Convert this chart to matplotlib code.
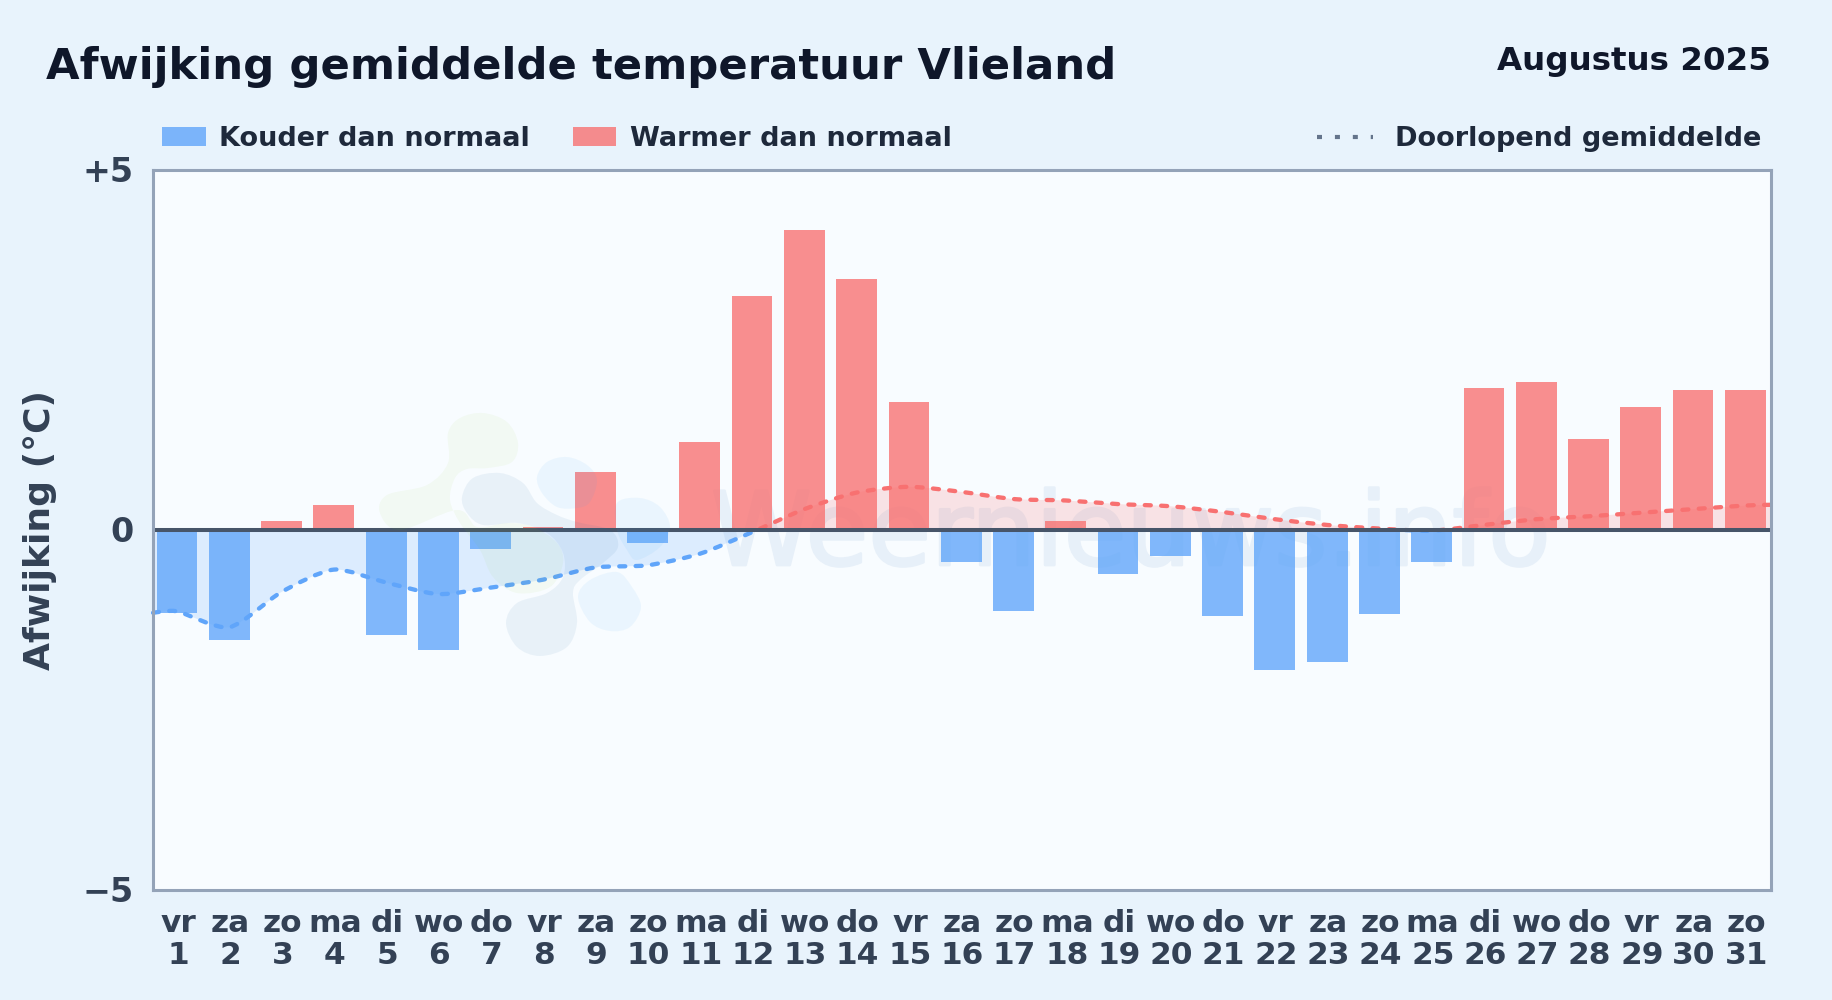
import numpy as np
from matplotlib import pyplot as plt
from matplotlib import patheffects
from matplotlib.path import Path
from matplotlib.patches import PathPatch, Rectangle
from matplotlib.lines import Line2D
from matplotlib.transforms import ScaledTranslation

# figure is laid out in pixels, same as the reference
WIDTH = 1832
HEIGHT = 1000

BG = "#e8f3fc"
PLOT_BG = "#f8fcff"
COLD = "#60a5fa"
WARM = "#f87171"
WATERMARK = "#e7f0f9"

# DATA
weekdays = ["vr", "za", "zo", "ma", "di", "wo", "do", "vr", "za", "zo", "ma", "di", "wo", "do", "vr", "za",
            "zo", "ma", "di", "wo", "do", "vr", "za", "zo", "ma", "di", "wo", "do", "vr", "za", "zo"]
days = list(range(1, 32))

# afwijking per dag in graden
deviation = [-1.15, -1.53, 0.12, 0.35, -1.46, -1.66, -0.26, 0.04, 0.80, -0.18, 1.22, 3.25, 4.16, 3.48, 1.78, -0.45,
             -1.13, 0.12, -0.61, -0.36, -1.19, -1.95, -1.84, -1.17, -0.45, 1.97, 2.05, 1.26, 1.71, 1.94, 1.94]

# doorlopend gemiddelde, runs from the left edge of the plot to the right edge
mean_x = [0.54] + days + [31.49]
mean_y = [-1.15, -1.13, -1.35, -0.86, -0.55, -0.73, -0.89, -0.80, -0.69, -0.52, -0.49, -0.33, -0.03, 0.29, 0.52,
          0.60, 0.53, 0.43, 0.41, 0.36, 0.33, 0.25, 0.15, 0.07, 0.02, -0.01, 0.07, 0.15, 0.19, 0.24, 0.29, 0.34, 0.35]

# watermark logo blobs, in pixels of the figure
blob_green = [(448, 433), (460, 418), (483, 413), (507, 422), (518, 443), (512, 462), (488, 468), (467, 469),
              (455, 478), (450, 500), (460, 523), (480, 550), (493, 577), (517, 593), (550, 587), (563, 563),
              (557, 543), (533, 527), (507, 523), (477, 527), (457, 510), (400, 530), (380, 513), (387, 495),
              (427, 485), (448, 463)]
blob_dark = [(462, 497), (473, 478), (500, 473), (523, 483), (537, 503), (557, 515), (577, 522), (610, 530),
             (618, 547), (603, 563), (580, 580), (573, 593), (577, 623), (567, 647), (540, 656), (517, 647),
             (506, 623), (517, 603), (547, 593), (563, 577), (563, 553), (547, 533), (517, 523), (483, 525),
             (467, 513)]
blob_light1 = [(537, 477), (547, 462), (567, 457), (587, 465), (597, 480), (590, 502), (577, 508), (557, 507),
               (542, 493)]
blob_light2 = [(617, 503), (640, 498), (660, 507), (670, 527), (660, 547), (637, 560), (627, 550), (617, 530)]
blob_light3 = [(578, 597), (590, 580), (617, 572), (632, 587), (641, 607), (630, 627), (610, 631), (590, 622)]


# smooth curve through the points as bezier segments (catmull-rom)
def smooth_segments(x, y, pull=6):
    pts = np.column_stack([x, y])
    verts = [pts[0]]
    for i in range(len(pts) - 1):
        before = pts[max(i - 1, 0)]
        after = pts[min(i + 2, len(pts) - 1)]
        verts.append(pts[i] + (pts[i + 1] - before) / pull)
        verts.append(pts[i + 1] - (after - pts[i]) / pull)
        verts.append(pts[i + 1])
    return verts


def open_path(x, y):
    verts = smooth_segments(x, y, pull=8)
    codes = [Path.MOVETO] + [Path.CURVE4] * (len(verts) - 1)
    return Path(verts, codes)


def area_path(x, y):
    verts = smooth_segments(x, y, pull=8)
    codes = [Path.MOVETO] + [Path.CURVE4] * (len(verts) - 1)
    verts = verts + [(x[-1], 0), (x[0], 0), (x[0], y[0])]
    codes = codes + [Path.LINETO, Path.LINETO, Path.LINETO]
    return Path(verts, codes)


def blob_path(points):
    pts = np.array(points + points[:3], dtype=float)
    verts = smooth_segments(pts[:, 0], pts[:, 1])
    # leave out the first and last stretch so that the loop closes smoothly
    verts = verts[3:-3]
    codes = [Path.MOVETO] + [Path.CURVE4] * (len(verts) - 1)
    return Path(verts, codes)


fig = plt.figure(figsize=(WIDTH / 100, HEIGHT / 100), dpi=100, facecolor=BG)
plt.rcParams["font.family"] = "DejaVu Sans"

# x, y in pixels from the top left of the picture
def fx(px):
    return px / WIDTH


def fy(px):
    return 1 - px / HEIGHT


ax = fig.add_axes([fx(153), fy(890), (1771 - 153) / WIDTH, (890 - 170) / HEIGHT], facecolor=PLOT_BG)
ax.set_xlim(0.54, 31.49)
ax.set_ylim(-5, 5)

# watermark text lies under the see-through bars, opaque so the thicker stroke does not double up
wm = ax.text(fx(711), fy(565), "Weernieuws.info", fontsize=73.3, color=WATERMARK, va="baseline", zorder=0.5,
             transform=fig.transFigure)
wm.set_path_effects([patheffects.withStroke(linewidth=2, foreground=WATERMARK)])

# area and dotted line, blue under zero and red over it
above = Rectangle((0.5, 0), 31, 5, transform=ax.transData)
below = Rectangle((0.5, -5), 31, 5, transform=ax.transData)
for color, clip in [(COLD, below), (WARM, above)]:
    area = PathPatch(area_path(mean_x, mean_y), facecolor=color, edgecolor="none", alpha=0.18, zorder=1)
    ax.add_patch(area)
    area.set_clip_path(clip)

bar_colors = [COLD if v < 0 else WARM for v in deviation]
ax.bar(days, deviation, width=0.78, color=bar_colors, alpha=0.79, zorder=2)

for color, clip in [(COLD, below), (WARM, above)]:
    line = PathPatch(open_path(mean_x, mean_y), facecolor="none", edgecolor=color, linewidth=3.1,
                     linestyle=(0, (1.4, 2.4)), capstyle="round", zorder=3)
    ax.add_patch(line)
    line.set_clip_path(clip)

ax.axhline(0, color="#475569", linewidth=2.9, zorder=4)

ax.set_xticks(days)
ax.set_xticklabels(["{}\n{}".format(w, d) for w, d in zip(weekdays, days)], fontsize=22.5, fontweight="bold",
                   color="#334155", linespacing=1.14)
ax.set_yticks([-5, 0, 5])
ax.set_yticklabels(["\u22125", "0", "+5"], fontsize=24, fontweight="bold", color="#334155")
ax.tick_params(axis="both", length=0)
ax.tick_params(axis="x", pad=13.5)
ax.tick_params(axis="y", pad=14)
for label in ax.get_yticklabels():
    label.set_transform(label.get_transform() + ScaledTranslation(0, 1.5 / 100, fig.dpi_scale_trans))
for label in ax.get_xticklabels():
    label.set_transform(label.get_transform() + ScaledTranslation(1 / 100, 0, fig.dpi_scale_trans))
for spine in ax.spines.values():
    spine.set_color("#94a3b8")
    spine.set_linewidth(2.2)
    spine.set_zorder(5)

fig.text(fx(40), fy(530), "Afwijking (\u00b0C)", rotation=90, ha="center", va="center", fontsize=26,
         fontweight="bold", color="#334155")

fig.text(fx(46), fy(79), "Afwijking gemiddelde temperatuur Vlieland", fontsize=31.2, fontweight="bold",
         color="#0f172a", va="baseline")
fig.text(fx(1771), fy(70), "Augustus 2025", fontsize=23.4, fontweight="bold", color="#0f172a", ha="right",
         va="baseline")

# legend
fig.add_artist(Rectangle((fx(162), fy(146)), 44 / WIDTH, 19 / HEIGHT, transform=fig.transFigure, facecolor=COLD,
                         alpha=0.8, edgecolor="none"))
fig.add_artist(Rectangle((fx(573), fy(146)), 43 / WIDTH, 19 / HEIGHT, transform=fig.transFigure, facecolor=WARM,
                         alpha=0.8, edgecolor="none"))
fig.add_artist(Line2D([fx(1317), fx(1373)], [fy(137), fy(137)], transform=fig.transFigure, color="#64748b",
                      linewidth=3, linestyle=(0, (1.2, 3.1))))
legend_font = dict(fontsize=19.55, fontweight="bold", color="#1e293b", va="baseline")
fig.text(fx(219), fy(146), "Kouder dan normaal", **legend_font)
fig.text(fx(630), fy(146), "Warmer dan normaal", **legend_font)
fig.text(fx(1395), fy(146), "Doorlopend gemiddelde", **legend_font)

# logo sits faintly over everything inside the plot
for points, color, alpha in [(blob_green, "#84cc16", 0.05), (blob_dark, "#1e6aa8", 0.07),
                             (blob_light1, "#38a6f8", 0.07), (blob_light2, "#38a6f8", 0.07),
                             (blob_light3, "#38a6f8", 0.07)]:
    flipped = [(fx(p[0]), fy(p[1])) for p in points]
    fig.add_artist(PathPatch(blob_path(flipped), transform=fig.transFigure, facecolor=color, edgecolor="none",
                             alpha=alpha, zorder=6))

fig.savefig("out.png", dpi=100, facecolor=BG)
